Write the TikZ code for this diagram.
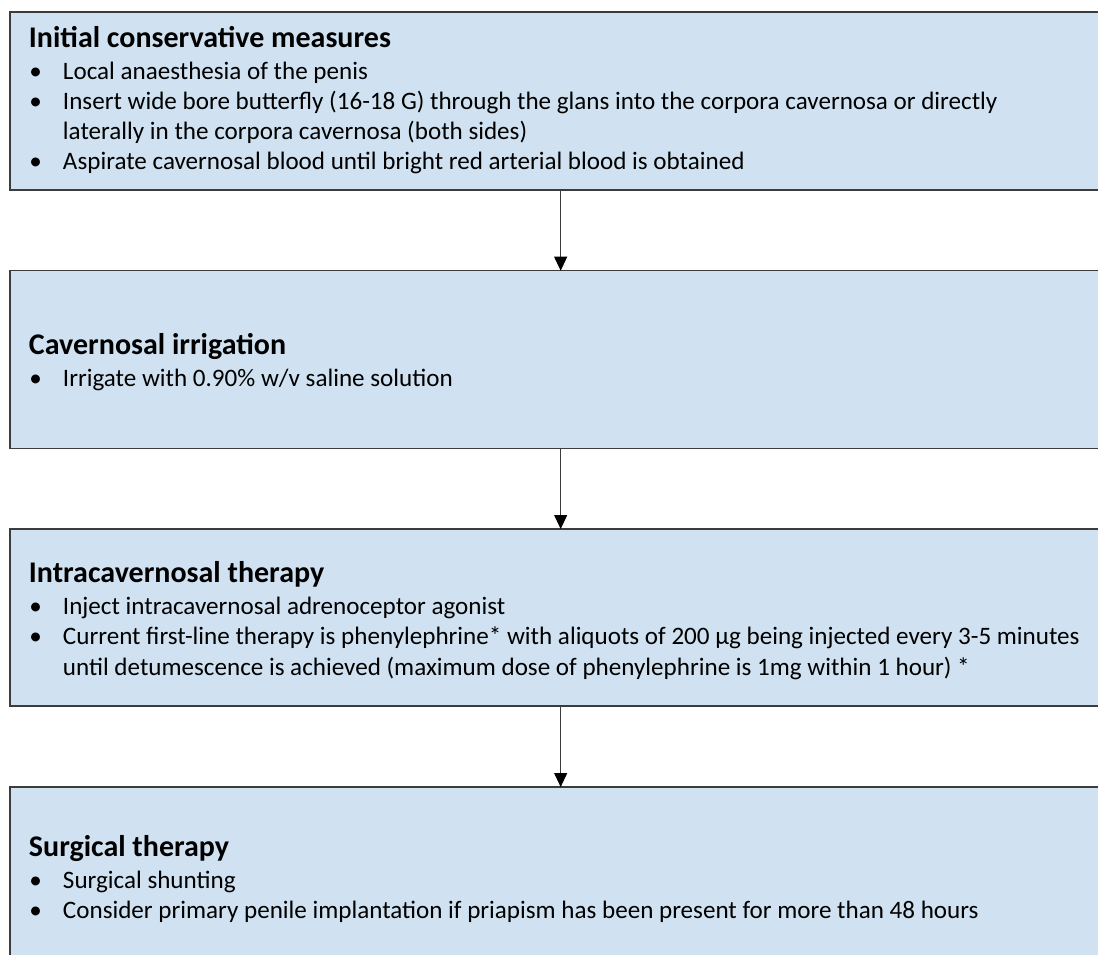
\documentclass[tikz,border=0pt]{standalone}
\usepackage{fontspec}
\setmainfont{Carlito}
\usetikzlibrary{arrows.meta}
\definecolor{boxfill}{RGB}{208,226,241}
\definecolor{boxline}{RGB}{60,60,60}
\newcommand\bulletmark{\makebox[25.3pt][l]{•}}
\begin{document}
\begin{tikzpicture}[x=0.75pt,y=-0.75pt,
  box/.style={draw=boxline,line width=0.8pt,fill=boxfill,anchor=north west,
    minimum width=826pt,inner sep=0pt,outer sep=0pt},
  head/.style={anchor=base west,inner sep=0pt,font=\fontsize{22.5}{26}\selectfont\bfseries},
  body/.style={anchor=base west,inner sep=0pt,font=\fontsize{18.82}{22.5}\selectfont},
  arr/.style={draw=boxline,line width=0.8pt,-{Triangle[width=9.75pt,length=10.5pt,color=black]}}
]
\path[use as bounding box] (0,0) rectangle (1098,955);
\clip (0,0) rectangle (1098,955);
\fill[white] (0,0) rectangle (1098,955);

% boxes
\node[box,minimum height=133.5pt] (b1) at (10,12) {};
\node[box,minimum height=133pt] (b2) at (10,270.7) {};
\node[box,minimum height=132.75pt] (b3) at (10,529) {};
\node[box,minimum height=137.25pt] (b4) at (10,787) {};

% box 1
\node[head] (h1) at (28.7,48) {Initial conservative measures};
\node[body] (t1a) at (29,80) {\bulletmark Local anaesthesia of the penis};
\node[body] (t1b) at (29,110) {\bulletmark Insert wide bore butterfly (16-18 G) through the glans into the corpora cavernosa or directly};
\node[body] (t1c) at (62.7,140) {laterally in the corpora cavernosa (both sides)};
\node[body] (t1d) at (29,170) {\bulletmark Aspirate cavernosal blood until bright red arterial blood is obtained};

% box 2
\node[head] (h2) at (28.7,354) {Cavernosal irrigation};
\node[body] (t2a) at (29,386) {\bulletmark Irrigate with 0.90\% w/v saline solution};

% box 3
\node[head] (h3) at (28.7,582.3) {Intracavernosal therapy};
\node[body] (t3a) at (29,614) {\bulletmark Inject intracavernosal adrenoceptor agonist};
\node[body] (t3b) at (29,644) {\bulletmark Current first-line therapy is phenylephrine* with aliquots of 200 µg being injected every 3-5 minutes};
\node[body] (t3c) at (62.7,675) {until detumescence is achieved (maximum dose of phenylephrine is 1mg within 1 hour) *};

% box 4
\node[head] (h4) at (28.7,856.7) {Surgical therapy};
\node[body] (t4a) at (29,888) {\bulletmark Surgical shunting};
\node[body] (t4b) at (29,918) {\bulletmark Consider primary penile implantation if priapism has been present for more than 48 hours};

% connectors
\draw[arr] (b1.south) -- (b2.north);
\draw[arr] (b2.south) -- (b3.north);
\draw[arr] (b3.south) -- (b4.north);
\end{tikzpicture}
\end{document}
